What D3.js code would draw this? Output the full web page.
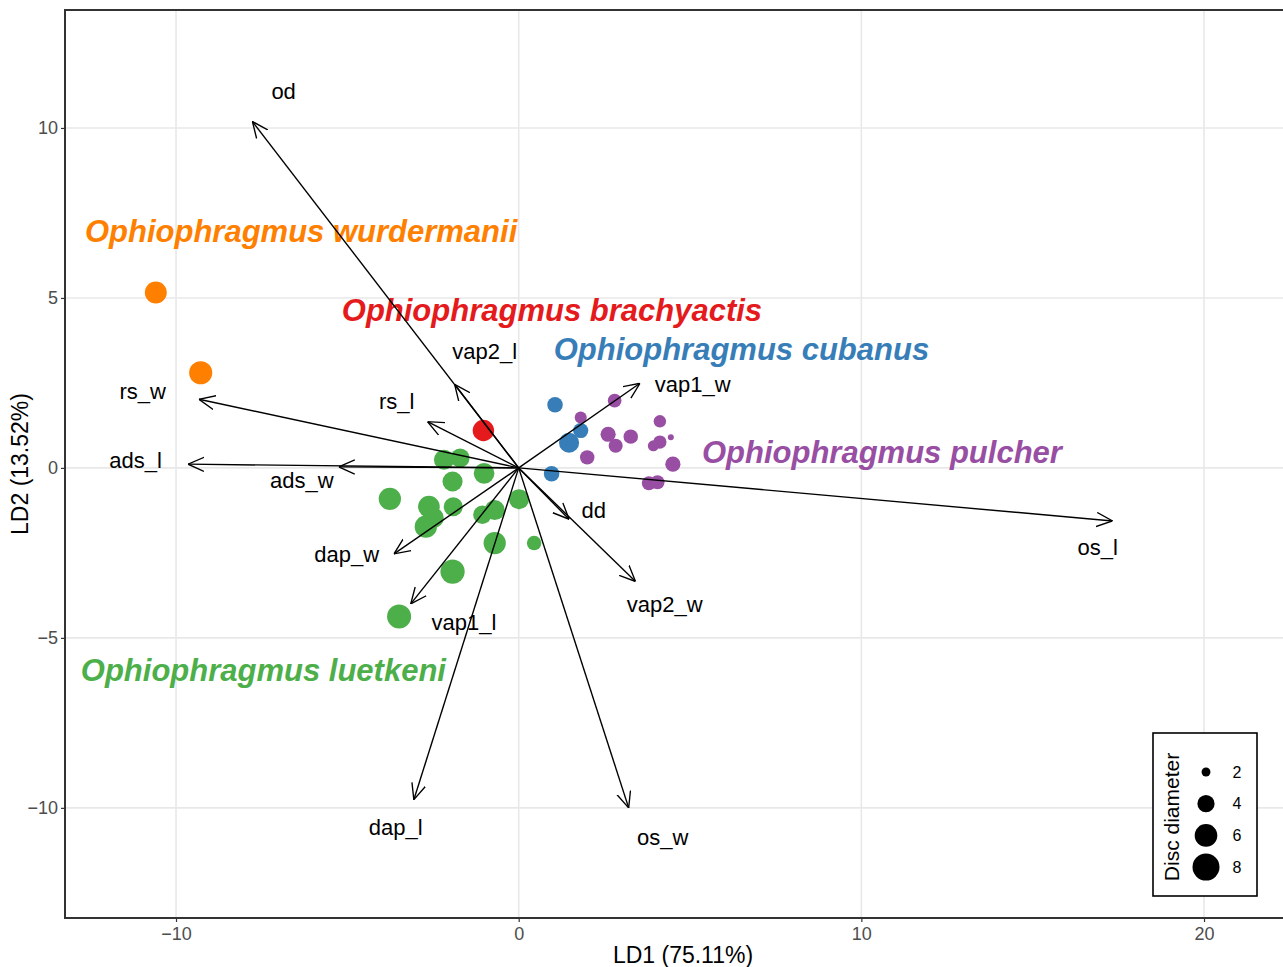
<!DOCTYPE html>
<html>
<head>
<meta charset="utf-8">
<script src="https://cdn.jsdelivr.net/npm/d3@7"></script>
<style>
  body { margin: 0; background: #fff; }
  text { font-family: "Liberation Sans", Arial, sans-serif; }
</style>
</head>
<body>
<div id="chart"></div>
<script>

// species groups
var species = ["wurdermanii", "brachyactis", "cubanus", "pulcher", "luetkeni"];
var species_color = {"wurdermanii":"#ff7f00", "brachyactis":"#e41a1c", "cubanus":"#377eb8", "pulcher":"#984ea3", "luetkeni":"#4daf4a"};
var species_label = ["Ophiophragmus wurdermanii", "Ophiophragmus brachyactis", "Ophiophragmus cubanus", "Ophiophragmus pulcher", "Ophiophragmus luetkeni"];
var species_label_x = [-6.35, 0.97, 6.5, 10.6, -7.45];
var species_label_y = [6.94, 4.64, 3.47, 0.46, -5.97];

// individuals: LD1, LD2, disc diameter, species
var ind_ld1 = [-10.59, -9.28,
               -1.03,
               1.06, 1.47, 1.81, 0.96,
               2.80, 1.81, 2.61, 2.83, 3.27, 2.00, 4.12, 4.12, 3.93, 4.44, 4.50, 3.80, 4.05,
               -2.18, -1.71, -1.93, -1.01, -3.76, -2.62, -1.91, -2.71, -2.48, -1.06, -0.70, 0.01, -0.70, 0.45, -1.93, -3.49];
var ind_ld2 = [5.16, 2.80,
               1.10,
               1.86, 0.74, 1.10, -0.17,
               1.98, 1.48, 0.99, 0.65, 0.92, 0.31, 1.37, 0.76, 0.65, 0.90, 0.11, -0.45, -0.42,
               0.24, 0.29, -0.40, -0.16, -0.91, -1.14, -1.14, -1.73, -1.47, -1.38, -1.24, -0.92, -2.21, -2.21, -3.05, -4.37];
var ind_disc = [5.7, 6.2,
                5.5,
                3.5, 5.0, 3.4, 3.5,
                3.0, 2.6, 3.4, 3.1, 3.2, 3.2, 2.7, 2.9, 2.4, 1.6, 3.4, 3.1, 3.1,
                5.0, 4.6, 5.0, 5.2, 5.85, 5.6, 4.6, 5.85, 5.0, 4.4, 5.0, 5.0, 5.85, 3.2, 6.7, 6.6];
var ind_species = ["wurdermanii", "wurdermanii",
                   "brachyactis",
                   "cubanus", "cubanus", "cubanus", "cubanus",
                   "pulcher", "pulcher", "pulcher", "pulcher", "pulcher", "pulcher", "pulcher", "pulcher", "pulcher", "pulcher", "pulcher", "pulcher", "pulcher",
                   "luetkeni", "luetkeni", "luetkeni", "luetkeni", "luetkeni", "luetkeni", "luetkeni", "luetkeni", "luetkeni", "luetkeni", "luetkeni", "luetkeni", "luetkeni", "luetkeni", "luetkeni", "luetkeni"];

// variable loadings (arrows) and their label spots
var var_names = ["od", "rs_w", "ads_l", "vap2_l", "rs_l", "ads_w", "dap_w", "vap1_l", "dap_l", "os_w", "vap2_w", "dd", "vap1_w", "os_l"];
var var_ld1 = [-7.77, -9.33, -9.65, -1.87, -2.66, -5.25, -3.64, -3.15, -3.06, 3.21, 3.41, 1.47, 3.54, 17.33];
var var_ld2 = [10.19, 2.02, 0.11, 2.46, 1.36, 0.03, -2.53, -4.00, -9.76, -10.00, -3.34, -1.51, 2.49, -1.56];
var var_label_x = [-6.86, -10.97, -11.18, -0.99, -3.56, -6.33, -5.02, -1.60, -3.59, 4.20, 4.26, 2.19, 5.08, 16.90];
var var_label_y = [11.06, 2.24, 0.21, 3.41, 1.94, -0.38, -2.56, -4.56, -10.59, -10.88, -4.03, -1.24, 2.44, -2.35];

var x_ticks = [-10, 0, 10, 20];
var y_ticks = [-10, -5, 0, 5, 10];
var legend_sizes = [2, 4, 6, 8];

var width = 1283, height = 967;
var panel = {left: 65, top: 10, right: 1301, bottom: 918};

var svg = d3.select("#chart").append("svg")
    .attr("width", width)
    .attr("height", height);

var x = d3.scaleLinear().domain([-13.24, 22.83]).range([panel.left, panel.right]);
var y = d3.scaleLinear().domain([-13.24, 13.47]).range([panel.bottom, panel.top]);
var size = d3.scaleRadial().domain([1.5, 8.5]).range([2.5, 14]);

svg.append("defs").append("marker")
    .attr("id", "arrowhead")
    .attr("viewBox", "0 0 10 10")
    .attr("refX", 10)
    .attr("refY", 5)
    .attr("markerWidth", 16)
    .attr("markerHeight", 16)
    .attr("markerUnits", "userSpaceOnUse")
    .attr("orient", "auto")
  .append("path")
    .attr("d", "M0,0.6 L10,5 L0,9.4")
    .attr("fill", "none")
    .attr("stroke", "#000")
    .attr("stroke-width", 0.85);

// grid
svg.selectAll(".vgrid")
    .data(x_ticks)
  .enter().append("line")
    .attr("x1", function(d) { return x(d); })
    .attr("x2", function(d) { return x(d); })
    .attr("y1", panel.top)
    .attr("y2", panel.bottom)
    .attr("stroke", "#e8e8e8")
    .attr("stroke-width", 1.6);

svg.selectAll(".hgrid")
    .data(y_ticks)
  .enter().append("line")
    .attr("x1", panel.left)
    .attr("x2", panel.right)
    .attr("y1", function(d) { return y(d); })
    .attr("y2", function(d) { return y(d); })
    .attr("stroke", "#e8e8e8")
    .attr("stroke-width", 1.6);

// axes
var xAxis = svg.append("g")
    .attr("transform", "translate(0," + panel.bottom + ")")
    .call(d3.axisBottom(x).tickValues(x_ticks).tickSize(4).tickPadding(5).tickFormat(function(d) { return d < 0 ? "\u2212" + Math.abs(d) : d; }));
var yAxis = svg.append("g")
    .attr("transform", "translate(" + panel.left + ",0)")
    .call(d3.axisLeft(y).tickValues(y_ticks).tickSize(4).tickPadding(3).tickFormat(function(d) { return d < 0 ? "\u2212" + Math.abs(d) : d; }));

[xAxis, yAxis].forEach(function(a) {
  a.select(".domain").remove();
  a.selectAll(".tick line").attr("stroke", "#333").attr("stroke-width", 1.2);
  a.selectAll(".tick text")
    .attr("fill", "#4d4d4d")
    .style("font-size", "18px")
    .style("font-family", "'Liberation Sans', Arial, sans-serif");
});

// species names
svg.selectAll(".species_label")
    .data(species)
  .enter().append("text")
    .attr("x", function(d, i) { return x(species_label_x[i]); })
    .attr("y", function(d, i) { return y(species_label_y[i]); })
    .attr("text-anchor", "middle")
    .attr("dominant-baseline", "central")
    .attr("fill", function(d) { return species_color[d]; })
    .style("font-size", "31px")
    .style("font-weight", "bold")
    .style("font-style", "italic")
    .text(function(d, i) { return species_label[i]; });

// individuals
svg.selectAll(".dot")
    .data(ind_ld1)
  .enter().append("circle")
    .attr("cx", function(d, i) { return x(ind_ld1[i]); })
    .attr("cy", function(d, i) { return y(ind_ld2[i]); })
    .attr("r", function(d, i) { return size(ind_disc[i]); })
    .attr("fill", function(d, i) { return species_color[ind_species[i]]; });

// loadings
svg.selectAll(".arrow")
    .data(var_names)
  .enter().append("line")
    .attr("x1", x(0))
    .attr("y1", y(0))
    .attr("x2", function(d, i) { return x(var_ld1[i]); })
    .attr("y2", function(d, i) { return y(var_ld2[i]); })
    .attr("stroke", "#000")
    .attr("stroke-width", 1.4)
    .attr("marker-end", "url(#arrowhead)");

svg.selectAll(".var_label")
    .data(var_names)
  .enter().append("text")
    .attr("x", function(d, i) { return x(var_label_x[i]); })
    .attr("y", function(d, i) { return y(var_label_y[i]); })
    .attr("text-anchor", "middle")
    .attr("dominant-baseline", "central")
    .attr("fill", "#000")
    .style("font-size", "22px")
    .text(function(d) { return d; });

// panel border
svg.append("rect")
    .attr("x", panel.left)
    .attr("y", panel.top)
    .attr("width", panel.right - panel.left)
    .attr("height", panel.bottom - panel.top)
    .attr("fill", "none")
    .attr("stroke", "#333")
    .attr("stroke-width", 2);

// axis titles
svg.append("text")
    .attr("x", (panel.left + panel.right) / 2)
    .attr("y", 955)
    .attr("text-anchor", "middle")
    .attr("dominant-baseline", "central")
    .style("font-size", "23px")
    .text("LD1 (75.11%)");

svg.append("text")
    .attr("transform", "translate(20," + ((panel.top + panel.bottom) / 2) + ") rotate(-90)")
    .attr("text-anchor", "middle")
    .attr("dominant-baseline", "central")
    .style("font-size", "23px")
    .text("LD2 (13.52%)");

// size legend
var legend = svg.append("g");
legend.append("rect")
    .attr("x", 1153)
    .attr("y", 733)
    .attr("width", 104)
    .attr("height", 163)
    .attr("fill", "#fff")
    .attr("stroke", "#000")
    .attr("stroke-width", 1.6);

legend.append("text")
    .attr("transform", "translate(1171,817) rotate(-90)")
    .attr("text-anchor", "middle")
    .attr("dominant-baseline", "central")
    .style("font-size", "21px")
    .text("Disc diameter");

legend.selectAll(".lg_dot")
    .data(legend_sizes)
  .enter().append("circle")
    .attr("cx", 1206)
    .attr("cy", function(d, i) { return 772 + i * 31.7; })
    .attr("r", function(d) { return size(d); })
    .attr("fill", "#000");

legend.selectAll(".lg_text")
    .data(legend_sizes)
  .enter().append("text")
    .attr("x", 1237)
    .attr("y", function(d, i) { return 772 + i * 31.7; })
    .attr("text-anchor", "middle")
    .attr("dominant-baseline", "central")
    .style("font-size", "16px")
    .text(function(d) { return d; });

</script>
</body>
</html>
